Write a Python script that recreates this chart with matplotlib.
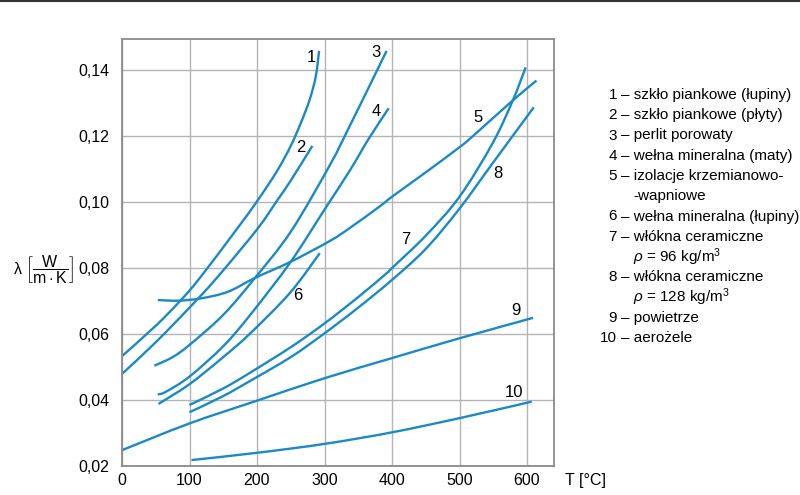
import matplotlib
matplotlib.use('Agg')
import matplotlib.pyplot as plt
from matplotlib.lines import Line2D
from matplotlib.path import Path
from matplotlib.patches import PathPatch

plt.rcParams['font.family'] = ['Liberation Sans', 'DejaVu Sans']
plt.rcParams['mathtext.fontset'] = 'custom'
plt.rcParams['mathtext.rm'] = 'Liberation Sans'
plt.rcParams['mathtext.it'] = 'Liberation Sans:italic'

# odczytane punkty krzywych: T [°C], lambda [W/(m K)]
t1 = [0, 50, 86, 115, 169, 200, 230, 250, 265, 278, 287, 292]
l1 = [0.0533, 0.0625, 0.0700, 0.0769, 0.0915, 0.1002, 0.1095, 0.1170, 0.1240, 0.1310,
      0.1380, 0.1458]
t2 = [0, 50, 100, 140, 200, 230, 250, 282]
l2 = [0.0479, 0.0575, 0.0680, 0.0769, 0.0917, 0.1005, 0.1065, 0.1170]
t3 = [48, 75, 100, 150, 197, 250, 308, 338, 365, 392]
l3 = [0.0504, 0.0530, 0.0567, 0.0658, 0.0770, 0.0910, 0.1112, 0.1233, 0.1345, 0.1458]
t4 = [53, 65, 100, 150, 190, 249, 300, 338, 365, 395]
l4 = [0.0417, 0.0425, 0.0471, 0.0563, 0.0658, 0.0816, 0.0977, 0.1097, 0.1190, 0.1284]
t5 = [53, 83, 117, 157, 197, 249, 308, 338, 382, 400, 450, 500, 520, 579, 614]
l5 = [0.0703, 0.0701, 0.0708, 0.0728, 0.0770, 0.0818, 0.0882, 0.0922, 0.0987, 0.1016,
      0.1090, 0.1166, 0.1200, 0.1308, 0.1368]
t6 = [54, 100, 150, 190, 249, 293]
l6 = [0.0388, 0.0448, 0.0530, 0.0602, 0.0725, 0.0845]
t7 = [100, 150, 190, 250, 300, 350, 392, 400, 450, 500, 549, 579, 598]
l7 = [0.0385, 0.0435, 0.0483, 0.0560, 0.0632, 0.0712, 0.0784, 0.0800, 0.0898, 0.1016,
      0.1178, 0.1308, 0.1408]
t8 = [100, 150, 190, 250, 300, 350, 400, 450, 500, 550, 610]
l8 = [0.0363, 0.0412, 0.0458, 0.0530, 0.0602, 0.0680, 0.0764, 0.0858, 0.0980, 0.1120, 0.1287]
t9 = [0, 100, 200, 300, 400, 500, 609]
l9 = [0.0248, 0.0329, 0.0398, 0.0466, 0.0527, 0.0587, 0.0649]
t10 = [103, 200, 300, 400, 500, 607]
l10 = [0.0218, 0.0240, 0.0267, 0.0302, 0.0345, 0.0395]

curves = [(t1, l1), (t2, l2), (t3, l3), (t4, l4), (t5, l5),
          (t6, l6), (t7, l7), (t8, l8), (t9, l9), (t10, l10)]

# etykiety numerów krzywych
label_t = [281, 265, 376, 376, 527, 261, 420, 557, 584, 581]
label_l = [0.1439, 0.1164, 0.1452, 0.1273, 0.1255, 0.0718, 0.0885, 0.1085, 0.0670, 0.0424]

x_ticks = [0, 100, 200, 300, 400, 500, 600]
y_ticks = [0.02, 0.04, 0.06, 0.08, 0.10, 0.12, 0.14]
y_tick_labels = ['0,02', '0,04', '0,06', '0,08', '0,10', '0,12', '0,14']

legend_lines = [
    ('1', '– szkło piankowe (łupiny)'),
    ('2', '– szkło piankowe (płyty)'),
    ('3', '– perlit porowaty'),
    ('4', '– wełna mineralna (maty)'),
    ('5', '– izolacje krzemianowo-'),
    ('', '-wapniowe'),
    ('6', '– wełna mineralna (łupiny)'),
    ('7', '– włókna ceramiczne'),
    ('', r'$\it{\rho}$ = 96 kg/m$^3$'),
    ('8', '– włókna ceramiczne'),
    ('', r'$\it{\rho}$ = 128 kg/m$^3$'),
    ('9', '– powietrze'),
    ('10', '– aerożele'),
]

blue = '#1a8ac6'
W, H = 800, 495


def smooth_path(xs, ys):
    # gładka krzywa Beziera przez punkty (Catmull-Rom)
    verts = [(xs[0], ys[0])]
    codes = [Path.MOVETO]
    n = len(xs)
    for i in range(n - 1):
        x0, y0 = (xs[i - 1], ys[i - 1]) if i > 0 else (xs[i], ys[i])
        x1, y1 = xs[i], ys[i]
        x2, y2 = xs[i + 1], ys[i + 1]
        x3, y3 = (xs[i + 2], ys[i + 2]) if i + 2 < n else (x2, y2)
        verts += [(x1 + (x2 - x0) / 6, y1 + (y2 - y0) / 6),
                  (x2 - (x3 - x1) / 6, y2 - (y3 - y1) / 6),
                  (x2, y2)]
        codes += [Path.CURVE4] * 3
    return Path(verts, codes)


fig = plt.figure(figsize=(8, 4.95), dpi=100)
ax = fig.add_axes([122 / W, 1 - 466 / H, (554 - 122) / W, (466 - 39) / H])

for t, l in curves:
    ax.add_patch(PathPatch(smooth_path(t, l), fill=False, edgecolor=blue, lw=1.7,
                           capstyle='butt'))

for i in range(len(label_t)):
    ax.text(label_t[i], label_l[i], str(i + 1), fontsize=12, ha='center', va='center')

ax.set_xlim(0, 640)
ax.set_ylim(0.02, 0.1494)
ax.set_xticks(x_ticks)
ax.set_yticks(y_ticks)
ax.set_yticklabels(y_tick_labels)
ax.tick_params(length=0, labelsize=11.5, pad=9)
ax.tick_params(axis='x', pad=5)
ax.grid(True, color='#b4b4b4', lw=1.0)
ax.set_axisbelow(True)
for s in ax.spines.values():
    s.set_color('#8a8a8a')
    s.set_linewidth(1.3)

fig.text(565 / W, 1 - 480 / H, 'T [°C]', fontsize=11.5, ha='left', va='center')
fig.text(43 / W, 1 - 270 / H, r'λ $\left[\dfrac{\mathrm{W}}{\mathrm{m\cdot K}}\right]$',
         fontsize=11.5, ha='center', va='center')

y0 = 95
for i, (num, txt) in enumerate(legend_lines):
    yy = 1 - (y0 + i * 20.25) / H
    if num:
        fig.text(617 / W, yy, num, fontsize=11, ha='right', va='center')
        fig.text(621 / W, yy, txt, fontsize=11, ha='left', va='center')
    else:
        fig.text(633 / W, yy, txt, fontsize=11, ha='left', va='center')

fig.add_artist(Line2D([0, 1], [1 - 1 / H, 1 - 1 / H], transform=fig.transFigure,
                      color='#333333', lw=1.5))

fig.savefig('out.png', dpi=100)
